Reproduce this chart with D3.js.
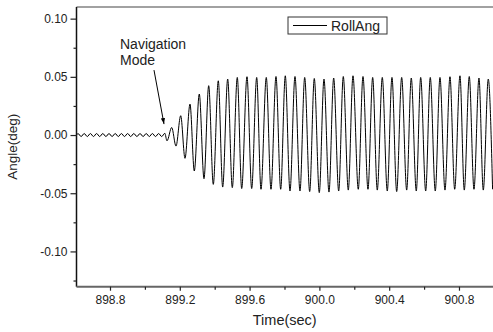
<!DOCTYPE html>
<html>
<head>
<meta charset="utf-8">
<script src="https://cdn.jsdelivr.net/npm/d3@7"></script>
<style>
  body { margin: 0; background: #fff; }
  text { font-family: Arial, "Liberation Sans", sans-serif; fill: #222; }
</style>
</head>
<body>
<svg id="chart" width="493" height="332"></svg>
<script>
// extrema of the RollAng trace (time in sec, angle in deg)
const rollTime = [
  898.608, 898.6166, 898.6344, 898.6521, 898.6699, 898.6877, 898.7054, 898.7232, 898.7410,
  898.7587, 898.7765, 898.7943, 898.8120, 898.8298, 898.8476, 898.8654, 898.8831, 898.9009,
  898.9187, 898.9364, 898.9542, 898.9720, 898.9897, 899.0075, 899.0253, 899.0430, 899.0608,
  899.0786, 899.0963, 899.1141, 899.1266,
  899.1536, 899.1782, 899.2052, 899.2298, 899.2585, 899.2831, 899.3117, 899.3387, 899.3656,
  899.3920, 899.4206, 899.4458, 899.4745, 899.5009, 899.5295, 899.5547, 899.5851, 899.6120,
  899.6407, 899.6653, 899.6957, 899.7226, 899.7513, 899.7782, 899.8046, 899.8315, 899.8602,
  899.8888, 899.9158, 899.9444, 899.9708, 899.9994, 900.0264, 900.0550, 900.0819, 900.1106,
  900.1370, 900.1656, 900.1926, 900.2229, 900.2499, 900.2785, 900.3054, 900.3318, 900.3605,
  900.3891, 900.4160, 900.4430, 900.4716, 900.5003, 900.5266, 900.5553, 900.5805, 900.6092,
  900.6355, 900.6642, 900.6911, 900.7198, 900.7484, 900.7754, 900.8057, 900.8304, 900.8590,
  900.8860, 900.9146, 900.9393, 900.9679, 900.9926
];
const rollAng = [
  0.0000, 0.0013, -0.0013, 0.0013, -0.0013, 0.0013, -0.0013, 0.0013, -0.0013,
  0.0013, -0.0013, 0.0013, -0.0013, 0.0013, -0.0013, 0.0013, -0.0013, 0.0013,
  -0.0013, 0.0013, -0.0013, 0.0013, -0.0013, 0.0013, -0.0013, 0.0013, -0.0013,
  0.0013, -0.0013, 0.0015, -0.0050,
  0.0065, -0.0095, 0.0166, -0.0200, 0.0266, -0.0309, 0.0352, -0.0375, 0.0424,
  -0.0424, 0.0466, -0.0447, 0.0481, -0.0452, 0.0495, -0.0460, 0.0501, -0.0460,
  0.0495, -0.0466, 0.0495, -0.0466, 0.0503, -0.0466, 0.0509, -0.0481, 0.0503,
  -0.0481, 0.0495, -0.0486, 0.0486, -0.0495, 0.0481, -0.0490, 0.0490, -0.0481,
  0.0503, -0.0473, 0.0509, -0.0466, 0.0503, -0.0466, 0.0495, -0.0473, 0.0495,
  -0.0481, 0.0495, -0.0486, 0.0495, -0.0473, 0.0490, -0.0481, 0.0495, -0.0481,
  0.0495, -0.0481, 0.0495, -0.0473, 0.0501, -0.0466, 0.0509, -0.0473, 0.0503,
  -0.0466, 0.0490, -0.0473, 0.0481, -0.0466
];

const xMajor = [898.8, 899.2, 899.6, 900.0, 900.4, 900.8];
const xMinor = [899.0, 899.4, 899.8, 900.2, 900.6];
const yMajor = [-0.10, -0.05, 0.00, 0.05, 0.10];
const yMinor = [-0.125, -0.075, -0.025, 0.025, 0.075];

const svg = d3.select('#chart');
const plotLeft = 76.5, plotRight = 493, plotTop = 7, plotBottom = 286.7;

const x = d3.scaleLinear().domain([898.608, 900.995]).range([plotLeft, plotRight]);
const y = d3.scaleLinear().domain([-0.1303, 0.1100]).range([plotBottom, plotTop]);

// top frame line
svg.append('line')
  .attr('x1', plotLeft).attr('x2', plotRight).attr('y1', plotTop).attr('y2', plotTop)
  .attr('stroke', '#444').attr('stroke-width', 1.2);

// trace
const data = rollTime.map((t, i) => ({ t: t, v: rollAng[i] }));
svg.append('path')
  .datum(data)
  .attr('fill', 'none')
  .attr('stroke', '#000')
  .attr('stroke-width', 1)
  .attr('d', d3.line().x(d => x(d.t)).y(d => y(d.v)).curve(d3.curveMonotoneX));

// y axis (plain hyphen for negatives, like the original)
const yAxis = svg.append('g').attr('transform', 'translate(' + plotLeft + ',0)')
  .call(d3.axisLeft(y).tickValues(yMajor).tickFormat(d => d.toFixed(2)).tickSize(6).tickPadding(3));
svg.append('g').attr('transform', 'translate(' + plotLeft + ',0)')
  .call(d3.axisLeft(y).tickValues(yMinor).tickFormat('').tickSize(3))
  .select('.domain').remove();

// x axis
const xAxis = svg.append('g').attr('transform', 'translate(0,' + plotBottom + ')')
  .call(d3.axisBottom(x).tickValues(xMajor).tickFormat(d => d.toFixed(1)).tickSize(4).tickPadding(5));
svg.append('g').attr('transform', 'translate(0,' + plotBottom + ')')
  .call(d3.axisBottom(x).tickValues(xMinor).tickFormat('').tickSize(3))
  .select('.domain').remove();

svg.selectAll('.tick text').style('font-size', '12px').style('font-family', 'Arial, "Liberation Sans", sans-serif').attr('fill', '#222');
svg.selectAll('.tick line').attr('stroke', '#222').attr('stroke-width', 1.2);
yAxis.select('.domain').attr('stroke', '#111').attr('stroke-width', 1.5).attr('d', 'M0,' + plotTop + 'V' + plotBottom);
xAxis.select('.domain').attr('stroke', '#666').attr('stroke-width', 2).attr('d', 'M' + plotLeft + ',0H' + plotRight);

// axis titles
svg.append('text')
  .attr('x', (plotLeft + plotRight) / 2).attr('y', 325)
  .attr('text-anchor', 'middle').style('font-size', '14.5px')
  .text('Time(sec)');
svg.append('text')
  .attr('transform', 'translate(17,' + (plotTop + plotBottom) / 2 + ') rotate(-90)')
  .attr('text-anchor', 'middle').style('font-size', '13.5px')
  .text('Angle(deg)');

// legend
svg.append('rect')
  .attr('x', 288).attr('y', 17).attr('width', 99).attr('height', 17)
  .attr('fill', '#fff').attr('stroke', '#333').attr('stroke-width', 1);
svg.append('line')
  .attr('x1', 293).attr('x2', 327).attr('y1', 25.5).attr('y2', 25.5)
  .attr('stroke', '#000').attr('stroke-width', 1);
svg.append('text')
  .attr('x', 331).attr('y', 30.5).style('font-size', '14px')
  .text('RollAng');

// annotation
const note = svg.append('text').style('font-size', '14px');
note.append('tspan').attr('x', 120).attr('y', 49).text('Navigation');
note.append('tspan').attr('x', 120).attr('y', 65).text('Mode');

svg.append('defs').append('marker')
  .attr('id', 'arrow').attr('viewBox', '0 0 10 10')
  .attr('refX', 10).attr('refY', 5)
  .attr('markerWidth', 6).attr('markerHeight', 6)
  .attr('orient', 'auto')
  .append('path').attr('d', 'M0,1.5L10,5L0,8.5Z').attr('fill', '#000');

svg.append('line')
  .attr('x1', x(899.0521)).attr('y1', y(0.0558))
  .attr('x2', x(899.1095)).attr('y2', y(0.0094))
  .attr('stroke', '#000').attr('stroke-width', 1)
  .attr('marker-end', 'url(#arrow)');
</script>
</body>
</html>
